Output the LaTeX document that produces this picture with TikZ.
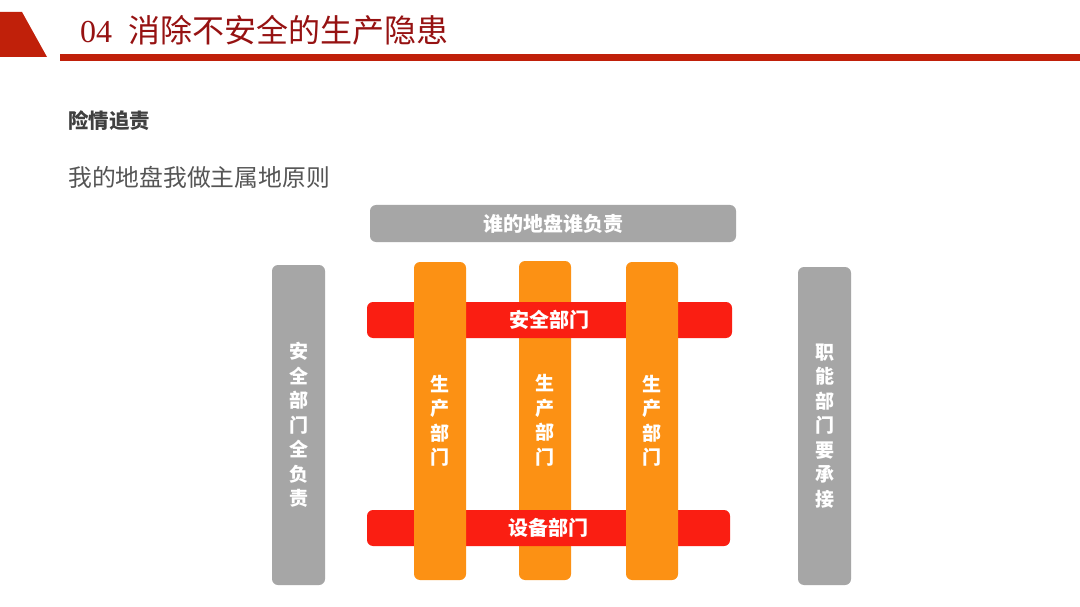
\documentclass[tikz,border=0pt]{standalone}
\usepackage{fontspec}
\setmainfont{Liberation Serif}
\newfontfamily\cjk{Noto Sans CJK SC}
\definecolor{hdrred}{RGB}{192,32,10}
\definecolor{titlered}{RGB}{150,18,18}
\definecolor{barred}{RGB}{250,30,18}
\definecolor{barorange}{RGB}{252,145,20}
\definecolor{bargray}{RGB}{166,166,166}
\definecolor{txtgray}{RGB}{64,64,64}
\definecolor{txtgray2}{RGB}{85,85,85}
\tikzset{
  bar/.style={rounded corners=6pt, inner sep=0pt, text=white, align=center},
  vbar/.style={bar, minimum width=53pt, minimum height=318pt},
  hbar/.style={bar, minimum height=36pt, font=\cjk\bfseries\fontsize{20}{24}\selectfont},
  vtext/.style={font=\cjk\bfseries\fontsize{19}{24.5}\selectfont},
}
\begin{document}
\begin{tikzpicture}[x=1pt,y=-1pt]
\useasboundingbox[fill=white] (0,0) rectangle (1080,607);
% header
\fill[hdrred] (0,12) -- (22,12) -- (47,57) -- (0,57) -- cycle;
\fill[hdrred] (60,54) rectangle (1080,61);
\node[anchor=west, inner sep=0pt, text=titlered] (title) at (80,30)
  {\fontsize{32}{36}\selectfont 04\hspace{16pt}{\cjk 消除不安全的生产隐患}};
\node[anchor=west, inner sep=0pt, text=txtgray, font=\cjk\bfseries\fontsize{20.5}{24}\selectfont] (sub) at (68,121) {险情追责};
\node[anchor=west, inner sep=0pt, text=txtgray2, font=\cjk\fontsize{23.8}{28}\selectfont] (prin) at (68,177) {我的地盘我做主属地原则};
% top gray bar
\node[hbar, fill=bargray, minimum width=366pt, minimum height=37pt] (top) at (553,223.5) {谁的地盘谁负责};
% side gray bars
\node[vbar, fill=bargray, minimum height=320pt, vtext] (left) at (298.5,425) {安\\全\\部\\门\\全\\负\\责};
\node[vbar, fill=bargray, vtext] (right) at (824.5,426) {职\\能\\部\\门\\要\\承\\接};
% middle orange (under red bars)
\node[vbar, fill=barorange, minimum width=52pt, minimum height=319pt, vtext] (p2) at (545,420.5) {生\\产\\部\\门};
% red bars
\node[hbar, fill=barred, minimum width=365pt] (safety) at (549.5,320) {安全部门};
\node[hbar, fill=barred, minimum width=363pt] (equip) at (548.5,528) {设备部门};
% outer oranges (over red bars)
\node[vbar, fill=barorange, minimum width=52pt, vtext] (p1) at (440,421) {生\\产\\部\\门};
\node[vbar, fill=barorange, minimum width=52pt, vtext] (p3) at (652,421) {生\\产\\部\\门};
\end{tikzpicture}
\end{document}
